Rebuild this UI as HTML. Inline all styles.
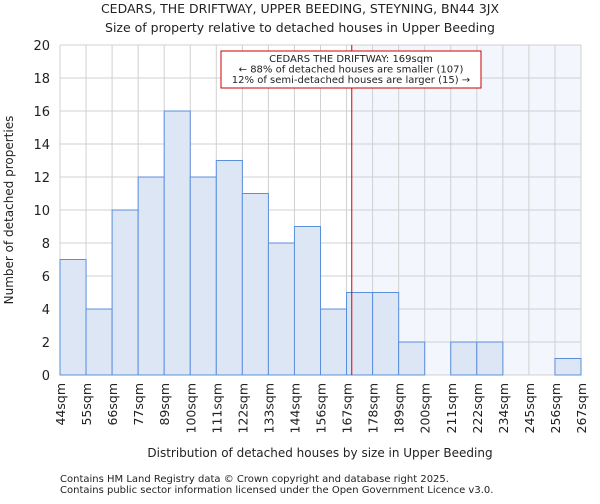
<!DOCTYPE html>
<html><head><meta charset="utf-8"><style>
body{margin:0;background:#fff;font-family:"DejaVu Sans","Liberation Sans",sans-serif;}
svg text{font-family:"DejaVu Sans","Liberation Sans",sans-serif;fill:#222;}
</style></head><body>
<svg id="chart" width="600" height="500" xmlns="http://www.w3.org/2000/svg">
<text x="300" y="13" font-size="12.5" text-anchor="middle">CEDARS, THE DRIFTWAY, UPPER BEEDING, STEYNING, BN44 3JX</text>
<text x="300" y="32" font-size="12.5" text-anchor="middle">Size of property relative to detached houses in Upper Beeding</text>
<text transform="translate(13,210) rotate(-90)" font-size="12" text-anchor="middle">Number of detached properties</text>
<text x="320" y="457" font-size="12" text-anchor="middle">Distribution of detached houses by size in Upper Beeding</text>
<text x="60" y="482" font-size="10">Contains HM Land Registry data © Crown copyright and database right 2025.</text>
<text x="60" y="493" font-size="10">Contains public sector information licensed under the Open Government Licence v3.0.</text>
<g id="plot"></g>
</svg>
<script>
const categories=["44sqm","55sqm","66sqm","77sqm","89sqm","100sqm","111sqm","122sqm","133sqm","144sqm","156sqm","167sqm","178sqm","189sqm","200sqm","211sqm","222sqm","234sqm","245sqm","256sqm","267sqm"];
const counts=[7,4,10,12,16,12,13,11,8,9,4,5,5,2,0,2,2,0,0,1];
const yTicks=[0,2,4,6,8,10,12,14,16,18,20];
const markerBin=11.2;
const annotationLines=["CEDARS THE DRIFTWAY: 169sqm","← 88% of detached houses are smaller (107)","12% of semi-detached houses are larger (15) →"];
const L=60,R=581,T=45,B=375,NS="http://www.w3.org/2000/svg";
const bw=(R-L)/counts.length;
const x=i=>L+i*bw, y=v=>B-(v/20)*(B-T);
const g=document.getElementById('plot');
function mk(t,a){const e=document.createElementNS(NS,t);for(const k in a)e.setAttribute(k,a[k]);g.appendChild(e);return e;}
const mx=x(markerBin);
let sh=mk('rect',{x:mx,y:T,width:R-mx,height:B-T,fill:'#f3f6fd'});


for(let i=0;i<=counts.length;i++){let l=mk('line',{x1:x(i),x2:x(i),y1:T,y2:B,stroke:'#d0d0d0','stroke-width':1});

}
yTicks.forEach(v=>{let l=mk('line',{x1:L,x2:R,y1:y(v),y2:y(v),stroke:'#d0d0d0','stroke-width':1});


let t=mk('text',{x:L-10,y:y(v)+5,'font-size':13,'text-anchor':'end'});t.textContent=v;

});
counts.forEach((c,i)=>{if(c<=0)return;let r=mk('rect',{x:x(i),y:y(c),width:bw,height:B-y(c),fill:'#dce6f5',stroke:'#5b8fdc','stroke-width':1});

});
categories.forEach((c,i)=>{let t=mk('text',{transform:`translate(${x(i)+5},383) rotate(-90)`,'font-size':12.5,'text-anchor':'end'});t.textContent=c;

});
let ml=mk('line',{x1:mx,x2:mx,y1:T,y2:B,stroke:'#dd0000','stroke-width':1});


let box=mk('rect',{x:221,y:51,width:260,height:37,fill:'#fff',stroke:'#cc0000','stroke-width':1});


annotationLines.forEach((s,i)=>{let t=mk('text',{x:351,y:62+i*10.5,'font-size':10,'text-anchor':'middle'});t.textContent=s;

});
</script>
</body></html>
